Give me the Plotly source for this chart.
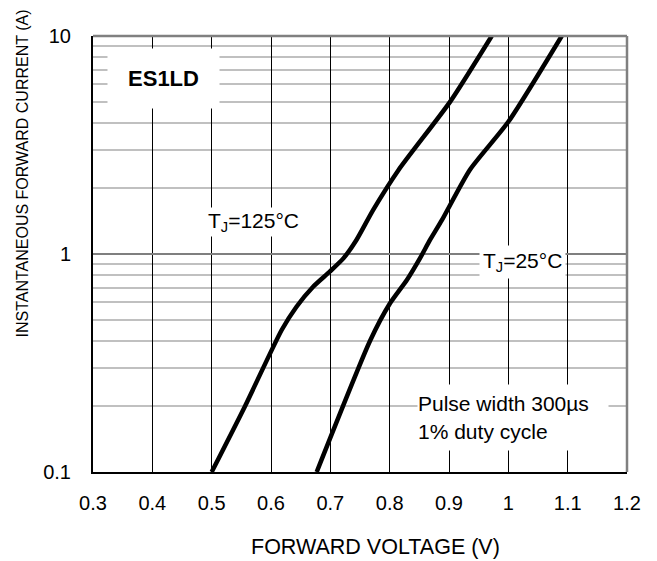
import plotly.graph_objects as go

# Data
v_125 = [0.50, 0.556, 0.618, 0.643, 0.671, 0.699, 0.722, 0.744, 0.772, 0.815, 0.902, 0.972]
i_125 = [0.10, 0.20, 0.448, 0.573, 0.708, 0.83, 0.955, 1.16, 1.59, 2.43, 5.0, 10.0]

v_25 = [0.677, 0.767, 0.8006, 0.829, 0.851, 0.868, 0.888, 0.935, 1.0, 1.09]
i_25 = [0.10, 0.40, 0.594, 0.76, 0.955, 1.16, 1.43, 2.43, 4.04, 10.0]

x_ticks = [0.3, 0.4, 0.5, 0.6, 0.7, 0.8, 0.9, 1.0, 1.1, 1.2]
x_tick_text = ["0.3", "0.4", "0.5", "0.6", "0.7", "0.8", "0.9", "1", "1.1", "1.2"]
y_ticks = [0.1, 1, 10]
y_tick_text = ["0.1", "1", "10"]
y_minor = [0.2, 0.3, 0.4, 0.5, 0.6, 0.7, 0.8, 0.9, 2, 3, 4, 5, 6, 7, 8, 9]

FONT = "Liberation Sans, Arial, sans-serif"

fig = go.Figure()
for v, i in [(v_125, i_125), (v_25, i_25)]:
    fig.add_trace(go.Scatter(x=v, y=i, mode="lines",
                             line=dict(color="black", width=4.5, shape="spline", smoothing=0.6),
                             showlegend=False, hoverinfo="skip"))

fig.update_layout(
    width=657, height=561,
    margin=dict(l=93, r=30, t=36, b=89),
    paper_bgcolor="white", plot_bgcolor="white",
    font=dict(family=FONT, color="black", size=20),
    xaxis=dict(range=[0.3, 1.2], tickvals=x_ticks, ticktext=x_tick_text,
               showgrid=True, gridcolor="black", gridwidth=1,
               zeroline=False, showline=True, linecolor="black", linewidth=2,
               ticks="outside", ticklen=12, tickcolor="rgba(0,0,0,0)",
               tickfont=dict(size=20)),
    yaxis=dict(type="log", range=[-1, 1], tickvals=y_ticks, ticktext=y_tick_text,
               showgrid=True, gridcolor="#7f7f7f", gridwidth=1.5,
               minor=dict(tickvals=y_minor, showgrid=True, gridcolor="#c0c0c0", gridwidth=2, ticks=""),
               zeroline=False, showline=True, linecolor="black", linewidth=2,
               ticks="outside", ticklen=16, tickcolor="rgba(0,0,0,0)",
               tickfont=dict(size=20)),
)

# top and right frame (gray)
fig.add_shape(type="line", xref="paper", yref="paper", x0=0, x1=1, y0=1, y1=1,
              line=dict(color="#808080", width=2.5))
fig.add_shape(type="line", xref="paper", yref="paper", x0=1, x1=1, y0=0, y1=1,
              line=dict(color="#808080", width=2.5))

# annotations
fig.add_annotation(x=0.418, y=0.803, xref="x", yref="y", text="<b>ES1LD</b>",
                   showarrow=False, font=dict(size=22), bgcolor="white",
                   width=109, height=57)
fig.add_annotation(x=0.491, y=0.147, xref="x", yref="y", xanchor="left",
                   text="T<sub>J</sub>=125°C", showarrow=False, font=dict(size=21),
                   bgcolor="white", borderpad=1)
fig.add_annotation(x=0.950, y=-0.035, xref="x", yref="y", xanchor="left",
                   text="T<sub>J</sub>=25°C", showarrow=False, font=dict(size=21),
                   bgcolor="white", borderpad=3)
fig.add_annotation(x=0.846, y=-0.748, xref="x", yref="y", xanchor="left",
                   text="Pulse width 300µs<br>1% duty cycle", align="left",
                   showarrow=False, font=dict(size=21), bgcolor="white",
                   width=190, height=65, borderpad=0)

# axis titles (pixel positions converted to paper coords of the plot area)
fig.add_annotation(x=(375 - 93) / 534, y=(472 - 547) / 436, xref="paper", yref="paper",
                   xanchor="center", yanchor="middle",
                   text="FORWARD VOLTAGE (V)", showarrow=False, font=dict(size=21.5))
fig.add_annotation(x=(22 - 93) / 534, y=(472 - 173.5) / 436, xref="paper", yref="paper",
                   textangle=-90, xanchor="center", yanchor="middle",
                   text="INSTANTANEOUS FORWARD CURRENT (A)", showarrow=False, font=dict(size=16))

fig.write_html("out.html", config={"displayModeBar": False},
               post_script="document.body.style.margin='0';document.body.style.overflow='hidden';")
